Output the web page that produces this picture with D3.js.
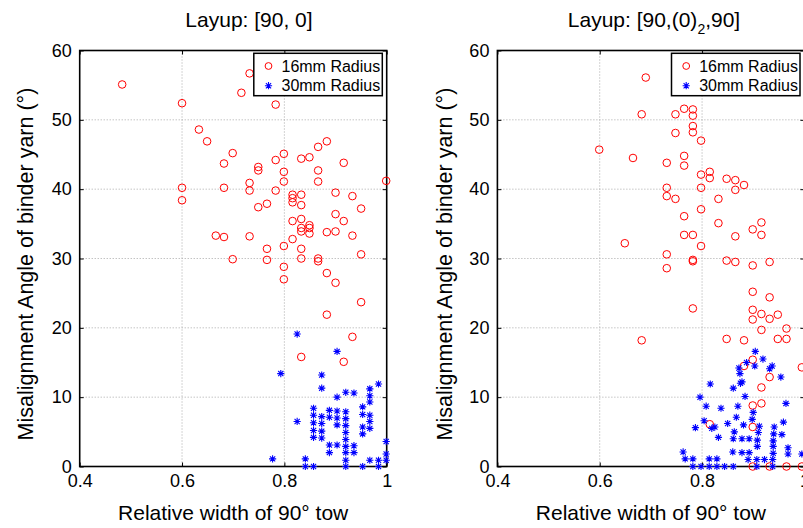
<!DOCTYPE html>
<html>
<head>
<meta charset="utf-8">
<script src="https://cdn.jsdelivr.net/npm/d3@7"></script>
<style>
  body { margin: 0; background: #fff; }
  svg { display: block; font-family: "Liberation Sans", Arial, sans-serif; }
</style>
</head>
<body>
<div id="chart-area"></div>
<script>
// ---- data: [relative width, angle in degrees] ----
const left16 = [
  [0.483, 55.1], [0.732, 56.7], [0.716, 53.9], [0.783, 52.2], [0.600, 52.4], [0.633, 48.6],
  [0.649, 46.9], [0.699, 45.2], [0.682, 43.7], [0.749, 43.2], [0.749, 42.7], [0.783, 44.2],
  [0.799, 45.1], [0.833, 44.4], [0.849, 44.6], [0.866, 46.1], [0.883, 46.9], [0.916, 43.8],
  [0.866, 42.7], [0.799, 42.5], [0.799, 41.1], [0.866, 41.1], [0.999, 41.2], [0.600, 40.2],
  [0.600, 38.4], [0.682, 40.2], [0.732, 40.9], [0.732, 39.8], [0.783, 39.8], [0.816, 39.2],
  [0.816, 38.7], [0.833, 39.2], [0.816, 38.1], [0.833, 37.7], [0.766, 37.9], [0.749, 37.4],
  [0.900, 39.5], [0.933, 39.0], [0.950, 37.2], [0.900, 36.4], [0.916, 35.4], [0.833, 35.7],
  [0.816, 35.4], [0.849, 34.8], [0.833, 34.4], [0.849, 34.4], [0.833, 33.9], [0.849, 33.6],
  [0.883, 33.8], [0.900, 33.9], [0.933, 33.3], [0.666, 33.3], [0.682, 33.1], [0.732, 33.2],
  [0.816, 32.8], [0.766, 31.4], [0.799, 31.8], [0.833, 31.4], [0.950, 30.6], [0.699, 29.9],
  [0.766, 29.8], [0.833, 30.0], [0.866, 30.0], [0.866, 29.6], [0.799, 28.8], [0.799, 27.0],
  [0.883, 27.9], [0.900, 26.5], [0.950, 23.7], [0.883, 21.9], [0.933, 18.7], [0.833, 15.8],
  [0.916, 15.1]
]
const left30 = [
  [0.825, 19.1], [0.903, 16.6], [0.793, 13.4], [0.873, 13.2], [0.873, 11.3], [0.984, 11.9],
  [0.967, 11.2], [0.967, 10.2], [0.967, 9.3], [0.920, 10.7], [0.936, 10.6], [0.903, 10.0],
  [0.857, 8.4], [0.857, 7.4], [0.857, 6.3], [0.857, 5.2], [0.857, 4.2], [0.873, 7.2],
  [0.873, 6.2], [0.873, 5.1], [0.873, 4.1], [0.888, 8.1], [0.888, 7.1], [0.903, 8.0],
  [0.903, 7.0], [0.903, 6.0], [0.920, 7.9], [0.920, 6.9], [0.920, 5.9], [0.920, 4.9],
  [0.920, 3.9], [0.920, 2.9], [0.920, 2.0], [0.920, 0.9], [0.920, 0.0], [0.953, 8.6],
  [0.953, 7.5], [0.953, 5.7], [0.953, 4.7], [0.967, 7.4], [0.967, 6.5], [0.967, 5.5],
  [0.825, 6.5], [0.888, 3.1], [0.888, 2.0], [0.903, 3.1], [0.936, 3.0], [0.936, 2.0],
  [0.777, 1.1], [0.841, 1.1], [0.841, 0.0], [0.857, 0.0], [0.953, 0.0], [0.967, 0.9],
  [0.984, 0.9], [0.984, 0.0], [0.999, 3.6], [0.999, 1.8], [0.999, 0.9]
]
const right16 = [
  [0.690, 56.1], [0.682, 50.8], [0.748, 50.8], [0.765, 51.6], [0.782, 51.5], [0.782, 50.6],
  [0.782, 49.1], [0.782, 48.2], [0.748, 48.1], [0.798, 47.0], [0.599, 45.7], [0.665, 44.5],
  [0.731, 43.8], [0.765, 44.8], [0.765, 43.4], [0.798, 42.1], [0.815, 42.5], [0.815, 41.6],
  [0.848, 41.5], [0.865, 41.3], [0.865, 39.9], [0.882, 40.6], [0.731, 40.2], [0.731, 39.0],
  [0.748, 38.6], [0.798, 40.2], [0.832, 38.6], [0.765, 36.1], [0.798, 37.1], [0.832, 35.1],
  [0.916, 35.2], [0.899, 34.2], [0.916, 33.4], [0.865, 33.2], [0.765, 33.4], [0.782, 33.4],
  [0.649, 32.2], [0.798, 31.8], [0.731, 30.6], [0.782, 29.8], [0.731, 28.6], [0.782, 29.6],
  [0.848, 29.7], [0.865, 29.5], [0.899, 29.0], [0.932, 29.5], [0.899, 25.2], [0.932, 24.4],
  [0.782, 22.8], [0.899, 22.6], [0.916, 22.0], [0.948, 21.9], [0.899, 21.2], [0.932, 21.3],
  [0.916, 19.7], [0.965, 19.9], [0.682, 18.2], [0.848, 18.4], [0.882, 18.2], [0.948, 18.4],
  [0.965, 18.4], [0.899, 15.4], [0.882, 14.5], [0.932, 12.9], [0.995, 14.3], [0.916, 11.4],
  [0.899, 8.8], [0.916, 9.1], [0.815, 6.1], [0.899, 5.7], [0.899, 0.0], [0.932, 0.0],
  [0.965, 0.0], [0.995, 0.0]
]
const right30 = [
  [0.904, 16.6], [0.887, 15.0], [0.903, 14.5], [0.919, 15.5], [0.937, 14.5], [0.932, 14.1],
  [0.872, 14.2], [0.874, 13.4], [0.954, 12.9], [0.878, 12.2], [0.875, 12.0], [0.816, 11.9],
  [0.861, 11.3], [0.796, 10.0], [0.884, 10.1], [0.808, 8.7], [0.837, 8.4], [0.870, 8.7],
  [0.964, 9.1], [0.900, 7.8], [0.867, 7.1], [0.804, 6.6], [0.850, 6.2], [0.959, 6.4],
  [0.787, 5.6], [0.819, 5.5], [0.825, 5.7], [0.881, 6.0], [0.898, 6.8], [0.912, 5.8],
  [0.910, 4.9], [0.941, 5.7], [0.940, 4.7], [0.956, 4.6], [0.863, 5.0], [0.832, 4.2],
  [0.861, 4.0], [0.878, 4.0], [0.892, 4.0], [0.908, 3.8], [0.939, 3.7], [0.908, 2.9],
  [0.939, 2.9], [0.968, 2.7], [0.968, 1.8], [0.939, 1.9], [0.763, 2.1], [0.767, 1.1],
  [0.782, 1.1], [0.782, 0.0], [0.860, 2.1], [0.878, 2.0], [0.892, 2.0], [0.890, 1.0],
  [0.907, 1.0], [0.922, 1.0], [0.938, 1.0], [0.814, 1.1], [0.829, 1.1], [0.814, 0.0],
  [0.829, 0.0], [0.844, 0.0], [0.861, 0.0], [0.798, 0.0], [0.907, 0.0], [0.938, 0.0],
  [0.995, 1.8]
]
const xTicks = [0.4, 0.6, 0.8, 1]
const yTicks = [0, 10, 20, 30, 40, 50, 60]
const seriesNames = ["16mm Radius", "30mm Radius"]

const WIDTH = 803
const HEIGHT = 528
const PLOT_W = 307
const TOP = 50.5
const BOTTOM = 466.5
const FONT = "'Liberation Sans', Arial, sans-serif"

const svg = d3.select("#chart-area").append("svg")
  .attr("width", WIDTH)
  .attr("height", HEIGHT)

// MATLAB style '*' marker: plus + cross
const star = (cx, cy) => {
  const s = 3.6, d = 2.6
  return `M${cx - s},${cy}h${2 * s}M${cx},${cy - s}v${2 * s}` +
    `M${cx - d},${cy - d}l${2 * d},${2 * d}M${cx - d},${cy + d}l${2 * d},${-2 * d}`
}

const panels = [
  { left: 79.7, r16: left16, r30: left30, titleX: 249, yLabelX: 32.7, title: ["Layup: [90, 0]"] },
  { left: 497.4, r16: right16, r30: right30, titleX: 654, yLabelX: 451.5, title: ["Layup: [90,(0)", "2", ",90]"] }
]

panels.forEach(p => {
  const x = d3.scaleLinear().domain([0.4, 1]).range([p.left, p.left + PLOT_W])
  const y = d3.scaleLinear().domain([0, 60]).range([BOTTOM, TOP])
  const g = svg.append("g")

  // grid
  g.append("g").selectAll("line").data(xTicks.slice(1, -1)).join("line")
    .attr("x1", d => x(d)).attr("x2", d => x(d))
    .attr("y1", TOP).attr("y2", BOTTOM)
    .attr("stroke", "#a8a8a8").attr("stroke-dasharray", "1,2")
  g.append("g").selectAll("line").data(yTicks.slice(1, -1)).join("line")
    .attr("y1", d => y(d)).attr("y2", d => y(d))
    .attr("x1", p.left).attr("x2", p.left + PLOT_W)
    .attr("stroke", "#a8a8a8").attr("stroke-dasharray", "1,2")

  // axes
  const fmt = d => d === 1 ? "1" : d3.format(".1f")(d)
  const xAxis = g.append("g").attr("transform", `translate(0, ${BOTTOM})`)
    .call(d3.axisBottom(x).tickValues(xTicks).tickFormat(fmt).tickSizeInner(-4).tickSizeOuter(0).tickPadding(8))
  const yAxis = g.append("g").attr("transform", `translate(${p.left}, 0)`)
    .call(d3.axisLeft(y).tickValues(yTicks).tickSizeInner(-4).tickSizeOuter(0).tickPadding(8))
  const topAxis = g.append("g").attr("transform", `translate(0, ${TOP})`)
    .call(d3.axisTop(x).tickValues(xTicks).tickFormat("").tickSizeInner(-4).tickSizeOuter(0))
  const rightAxis = g.append("g").attr("transform", `translate(${p.left + PLOT_W}, 0)`)
    .call(d3.axisRight(y).tickValues(yTicks).tickFormat("").tickSizeInner(-4).tickSizeOuter(0))
  ;[xAxis, yAxis, topAxis, rightAxis].forEach(a => {
    a.select(".domain").remove()
    a.selectAll("line").attr("stroke", "#000")
    a.selectAll("text").attr("font-family", FONT).attr("font-size", 18).attr("fill", "#000")
  })

  g.append("rect")
    .attr("x", p.left).attr("y", TOP)
    .attr("width", PLOT_W).attr("height", BOTTOM - TOP)
    .attr("fill", "none").attr("stroke", "#000").attr("stroke-width", 1.6)

  // points
  g.append("g").selectAll("circle").data(p.r16).join("circle")
    .attr("cx", d => x(d[0])).attr("cy", d => y(d[1])).attr("r", 3.8)
    .attr("fill", "none").attr("stroke", "#ff0000").attr("stroke-width", 1)
  g.append("g").selectAll("path").data(p.r30).join("path")
    .attr("d", d => star(x(d[0]), y(d[1])))
    .attr("fill", "none").attr("stroke", "#0000ff").attr("stroke-width", 1.1)

  // title
  const t = g.append("text")
    .attr("x", p.titleX).attr("y", 26.7)
    .attr("text-anchor", "middle")
    .attr("font-family", FONT).attr("font-size", 21)
  t.append("tspan").text(p.title[0])
  if (p.title.length > 1) {
    t.append("tspan").attr("dy", 7).attr("font-size", 14).text(p.title[1])
    t.append("tspan").attr("dy", -7).text(p.title[2])
  }

  // axis labels
  g.append("text")
    .attr("x", (x.range()[0] + x.range()[1]) / 2).attr("y", 520)
    .attr("text-anchor", "middle")
    .attr("font-family", FONT).attr("font-size", 21)
    .text("Relative width of 90° tow")
  g.append("text")
    .attr("transform", `translate(${p.yLabelX}, 264) rotate(-90)`)
    .attr("text-anchor", "middle")
    .attr("font-family", FONT).attr("font-size", 21.5)
    .text("Misalignment Angle of binder yarn (°)")

  // legend
  const lx = p.left + PLOT_W - 4.4 - 128.5
  const legend = g.append("g").attr("transform", `translate(${lx}, 53.3)`)
  legend.append("rect")
    .attr("width", 128.5).attr("height", 42.4)
    .attr("fill", "#fff").attr("stroke", "#000").attr("stroke-width", 1.5)
  legend.append("circle")
    .attr("cx", 14.7).attr("cy", 12.7).attr("r", 3.4)
    .attr("fill", "none").attr("stroke", "#ff0000")
  legend.append("path")
    .attr("d", star(14.7, 32.4))
    .attr("fill", "none").attr("stroke", "#0000ff").attr("stroke-width", 1.1)
  legend.selectAll("text.lab").data(seriesNames).join("text")
    .attr("class", "lab")
    .attr("x", 27.7).attr("y", (d, i) => 18.4 + i * 19)
    .attr("font-family", FONT).attr("font-size", 16)
    .text(d => d)
})
</script>
</body>
</html>
